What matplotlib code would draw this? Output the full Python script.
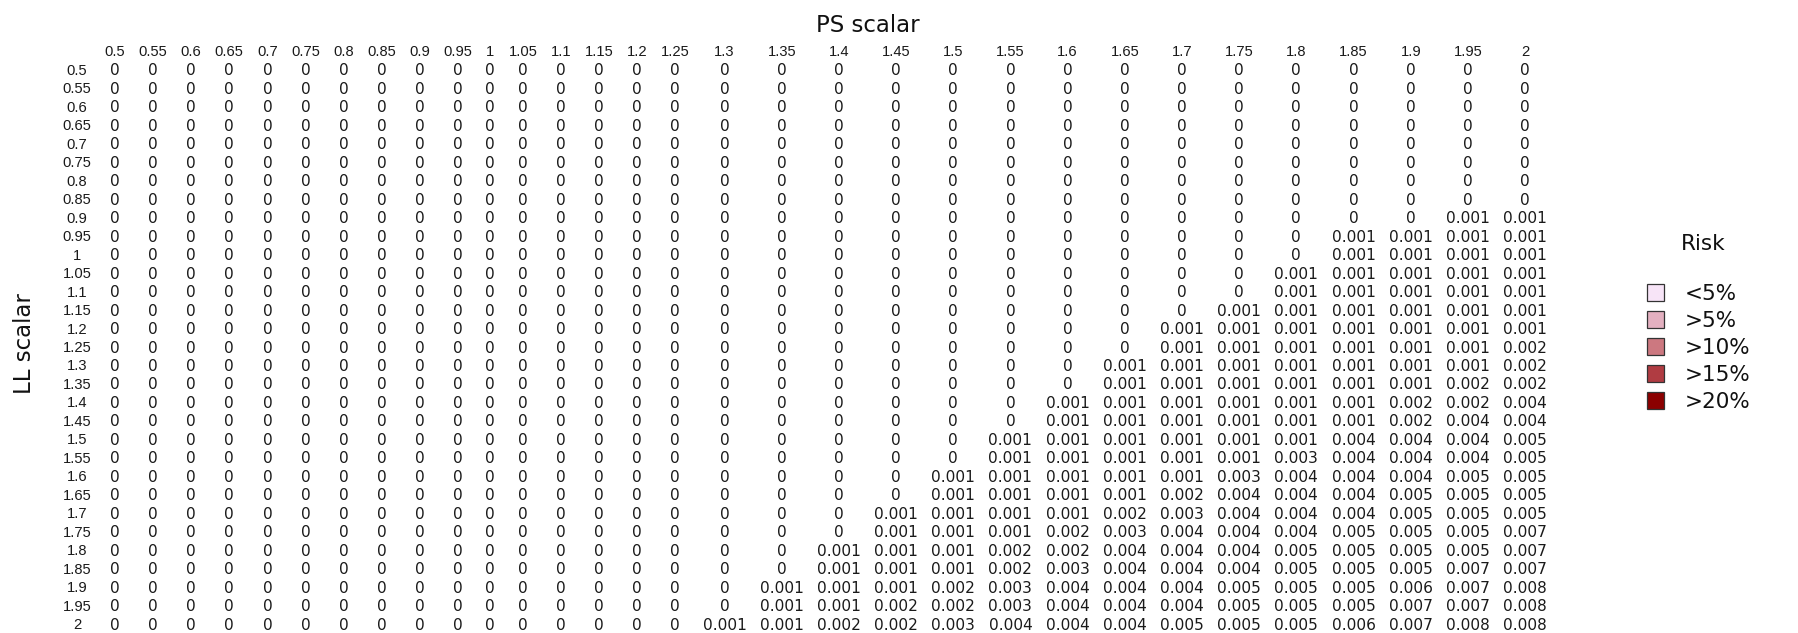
import matplotlib
matplotlib.use('Agg')
import matplotlib.pyplot as plt
from matplotlib.patches import Patch

# Scalars on both axes of the table
ps_scalar = [0.5, 0.55, 0.6, 0.65, 0.7, 0.75, 0.8, 0.85, 0.9, 0.95, 1, 1.05, 1.1, 1.15, 1.2, 1.25,
             1.3, 1.35, 1.4, 1.45, 1.5, 1.55, 1.6, 1.65, 1.7, 1.75, 1.8, 1.85, 1.9, 1.95, 2]
ll_scalar = [0.5, 0.55, 0.6, 0.65, 0.7, 0.75, 0.8, 0.85, 0.9, 0.95, 1, 1.05, 1.1, 1.15, 1.2, 1.25,
             1.3, 1.35, 1.4, 1.45, 1.5, 1.55, 1.6, 1.65, 1.7, 1.75, 1.8, 1.85, 1.9, 1.95, 2]

# one line per LL scalar, one value per PS scalar
risk_rows = [
    "0 0 0 0 0 0 0 0 0 0 0 0 0 0 0 0 0 0 0 0 0 0 0 0 0 0 0 0 0 0 0",
    "0 0 0 0 0 0 0 0 0 0 0 0 0 0 0 0 0 0 0 0 0 0 0 0 0 0 0 0 0 0 0",
    "0 0 0 0 0 0 0 0 0 0 0 0 0 0 0 0 0 0 0 0 0 0 0 0 0 0 0 0 0 0 0",
    "0 0 0 0 0 0 0 0 0 0 0 0 0 0 0 0 0 0 0 0 0 0 0 0 0 0 0 0 0 0 0",
    "0 0 0 0 0 0 0 0 0 0 0 0 0 0 0 0 0 0 0 0 0 0 0 0 0 0 0 0 0 0 0",
    "0 0 0 0 0 0 0 0 0 0 0 0 0 0 0 0 0 0 0 0 0 0 0 0 0 0 0 0 0 0 0",
    "0 0 0 0 0 0 0 0 0 0 0 0 0 0 0 0 0 0 0 0 0 0 0 0 0 0 0 0 0 0 0",
    "0 0 0 0 0 0 0 0 0 0 0 0 0 0 0 0 0 0 0 0 0 0 0 0 0 0 0 0 0 0 0",
    "0 0 0 0 0 0 0 0 0 0 0 0 0 0 0 0 0 0 0 0 0 0 0 0 0 0 0 0 0 0.001 0.001",
    "0 0 0 0 0 0 0 0 0 0 0 0 0 0 0 0 0 0 0 0 0 0 0 0 0 0 0 0.001 0.001 0.001 0.001",
    "0 0 0 0 0 0 0 0 0 0 0 0 0 0 0 0 0 0 0 0 0 0 0 0 0 0 0 0.001 0.001 0.001 0.001",
    "0 0 0 0 0 0 0 0 0 0 0 0 0 0 0 0 0 0 0 0 0 0 0 0 0 0 0.001 0.001 0.001 0.001 0.001",
    "0 0 0 0 0 0 0 0 0 0 0 0 0 0 0 0 0 0 0 0 0 0 0 0 0 0 0.001 0.001 0.001 0.001 0.001",
    "0 0 0 0 0 0 0 0 0 0 0 0 0 0 0 0 0 0 0 0 0 0 0 0 0 0.001 0.001 0.001 0.001 0.001 0.001",
    "0 0 0 0 0 0 0 0 0 0 0 0 0 0 0 0 0 0 0 0 0 0 0 0 0.001 0.001 0.001 0.001 0.001 0.001 0.001",
    "0 0 0 0 0 0 0 0 0 0 0 0 0 0 0 0 0 0 0 0 0 0 0 0 0.001 0.001 0.001 0.001 0.001 0.001 0.002",
    "0 0 0 0 0 0 0 0 0 0 0 0 0 0 0 0 0 0 0 0 0 0 0 0.001 0.001 0.001 0.001 0.001 0.001 0.001 0.002",
    "0 0 0 0 0 0 0 0 0 0 0 0 0 0 0 0 0 0 0 0 0 0 0 0.001 0.001 0.001 0.001 0.001 0.001 0.002 0.002",
    "0 0 0 0 0 0 0 0 0 0 0 0 0 0 0 0 0 0 0 0 0 0 0.001 0.001 0.001 0.001 0.001 0.001 0.002 0.002 0.004",
    "0 0 0 0 0 0 0 0 0 0 0 0 0 0 0 0 0 0 0 0 0 0 0.001 0.001 0.001 0.001 0.001 0.001 0.002 0.004 0.004",
    "0 0 0 0 0 0 0 0 0 0 0 0 0 0 0 0 0 0 0 0 0 0.001 0.001 0.001 0.001 0.001 0.001 0.004 0.004 0.004 0.005",
    "0 0 0 0 0 0 0 0 0 0 0 0 0 0 0 0 0 0 0 0 0 0.001 0.001 0.001 0.001 0.001 0.003 0.004 0.004 0.004 0.005",
    "0 0 0 0 0 0 0 0 0 0 0 0 0 0 0 0 0 0 0 0 0.001 0.001 0.001 0.001 0.001 0.003 0.004 0.004 0.004 0.005 0.005",
    "0 0 0 0 0 0 0 0 0 0 0 0 0 0 0 0 0 0 0 0 0.001 0.001 0.001 0.001 0.002 0.004 0.004 0.004 0.005 0.005 0.005",
    "0 0 0 0 0 0 0 0 0 0 0 0 0 0 0 0 0 0 0 0.001 0.001 0.001 0.001 0.002 0.003 0.004 0.004 0.004 0.005 0.005 0.005",
    "0 0 0 0 0 0 0 0 0 0 0 0 0 0 0 0 0 0 0 0.001 0.001 0.001 0.002 0.003 0.004 0.004 0.004 0.005 0.005 0.005 0.007",
    "0 0 0 0 0 0 0 0 0 0 0 0 0 0 0 0 0 0 0.001 0.001 0.001 0.002 0.002 0.004 0.004 0.004 0.005 0.005 0.005 0.005 0.007",
    "0 0 0 0 0 0 0 0 0 0 0 0 0 0 0 0 0 0 0.001 0.001 0.001 0.002 0.003 0.004 0.004 0.004 0.005 0.005 0.005 0.007 0.007",
    "0 0 0 0 0 0 0 0 0 0 0 0 0 0 0 0 0 0.001 0.001 0.001 0.002 0.003 0.004 0.004 0.004 0.005 0.005 0.005 0.006 0.007 0.008",
    "0 0 0 0 0 0 0 0 0 0 0 0 0 0 0 0 0 0.001 0.001 0.002 0.002 0.003 0.004 0.004 0.004 0.005 0.005 0.005 0.007 0.007 0.008",
    "0 0 0 0 0 0 0 0 0 0 0 0 0 0 0 0 0.001 0.001 0.002 0.002 0.003 0.004 0.004 0.004 0.005 0.005 0.005 0.006 0.007 0.008 0.008",
]
risk = [[float(v) for v in r.split()] for r in risk_rows]

risk_levels = ['<5%', '>5%', '>10%', '>15%', '>20%']
risk_colors = ['#f7e4f7', '#e3b0c0', '#cc7880', '#b03c42', '#8b0000']

W, H = 1798, 633
fig = plt.figure(figsize=(W / 100, H / 100), dpi=100)
ax = fig.add_axes([0, 0, 1, 1])
ax.set_xlim(0, W)
ax.set_ylim(H, 0)
ax.axis('off')
renderer = fig.canvas.get_renderer()

head_font = dict(family='Liberation Sans', size=10.6, color='#1a1a1a')
body_font = dict(family='DejaVu Sans', size=11.1, color='#1a1a1a')

def fmt(v):
    return f'{v:g}'

def text_width(s, font):
    t = ax.text(0, 0, s, **font)
    w = t.get_window_extent(renderer).width
    t.remove()
    return w

# table layout like a grid table: column width = widest text + padding
pad = 13.3
x0 = 56
head_y = 52.5
row_h = 18.47

label_w = max(text_width(fmt(v), head_font) for v in ll_scalar) + pad
col_w = []
for j, ps in enumerate(ps_scalar):
    w = text_width(fmt(ps), head_font)
    for row in risk:
        w = max(w, text_width(fmt(row[j]), body_font))
    col_w.append(w + pad)

label_x = x0 + label_w / 2
col_x = []
edge = x0 + label_w
for w in col_w:
    col_x.append(edge + w / 2)
    edge += w

for j, ps in enumerate(ps_scalar):
    ax.text(col_x[j], head_y, fmt(ps), ha='center', va='center', **head_font)

for i, ll in enumerate(ll_scalar):
    y = head_y + (i + 1) * row_h
    ax.text(label_x, y, fmt(ll), ha='center', va='center', **head_font)
    for j in range(len(ps_scalar)):
        ax.text(col_x[j], y, fmt(risk[i][j]), ha='center', va='center', **body_font)

fig.text(868 / W, 1 - 25 / H, 'PS scalar', ha='center', va='center',
         family='DejaVu Sans', fontsize=16.5, color='#111111')
fig.text(25 / W, 1 - 344 / H, 'LL scalar', ha='center', va='center', rotation=90,
         family='DejaVu Sans', fontsize=16.5, color='#111111')

# legend
fig.text(1703 / W, 1 - 244 / H, 'Risk', ha='center', va='center',
         family='DejaVu Sans', fontsize=15.5, color='#111111')
handles = [Patch(facecolor=c, edgecolor='#333333', linewidth=0.9, label=l)
           for c, l in zip(risk_colors, risk_levels)]
leg = fig.legend(handles=handles, loc='center left',
                 bbox_to_anchor=(1632 / W, 1 - 348 / H), frameon=False,
                 fontsize=15.5, handlelength=0.8, handleheight=0.8,
                 labelspacing=0.33, handletextpad=0.95, borderpad=0.2)
for t in leg.get_texts():
    t.set_color('#111111')

fig.savefig('out.png', dpi=100)
